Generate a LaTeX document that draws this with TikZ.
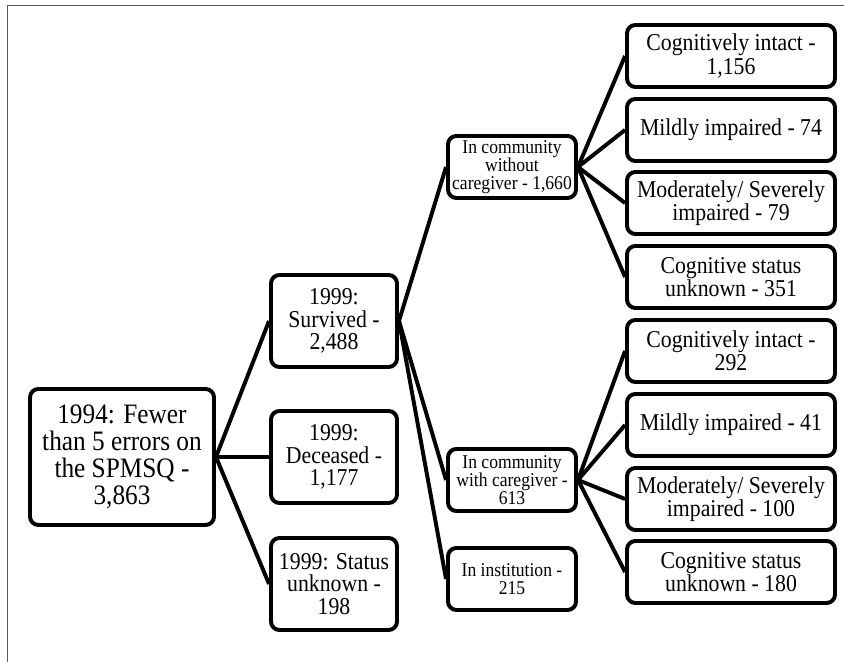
\documentclass[tikz,border=0pt]{standalone}
\usepackage{fontspec}
\setmainfont{Liberation Serif}[FakeStretch=0.9]
\definecolor{framegray}{gray}{0.35}
\usepackage{tikz}

\begin{document}
\begin{tikzpicture}[
    box/.style={draw,line width=2.8pt,rounded corners=6pt,align=center,inner sep=1pt},
    rootbox/.style={box,minimum width=4.6cm,minimum height=3.4cm,font=\fontsize{20}{19.2}\selectfont},
    yearbox/.style={box,minimum width=3.15cm,minimum height=2.3cm,font=\fontsize{17.2}{15.8}\selectfont},
    placebox/.style={box,minimum width=3.2cm,minimum height=1.55cm,font=\fontsize{13.9}{13}\selectfont},
    leafbox/.style={box,minimum width=5.2cm,minimum height=1.55cm,font=\fontsize{17.2}{16.4}\selectfont},
    link/.style={line width=2.8pt}]
        \useasboundingbox (0,0) rectangle (21.1,16.55);
        \draw[framegray,line width=0.9pt] (0.18,0)--(0.18,16.42)--(21.1,16.42);
        % first level
        \node[rootbox] (root) at (3.05,5.125) {1994: Fewer\\than 5 errors on\\the SPMSQ -\\3,863};
        \node[yearbox] (surv) at (8.35,8.525) {1999:\\Survived -\\2,488};
        \node[yearbox] (dec) at (8.35,5.125) {1999:\\Deceased -\\1,177};
        \node[yearbox] (unk) at (8.35,1.95) {1999: Status\\unknown -\\198};
        % where the survivors live
        \node[placebox] (nocg) at (12.8,12.375) {In community\\without\\caregiver - 1,660};
        \node[placebox] (withcg) at (12.8,4.55) {In community\\with caregiver -\\613};
        \node[placebox] (inst) at (12.8,2.075) {In institution -\\215};
        % cognitive status, without caregiver
        \node[leafbox] (a1) at (18.275,15.15) {Cognitively intact -\\1,156};
        \node[leafbox] (a2) at (18.275,13.3) {Mildly impaired - 74};
        \node[leafbox] (a3) at (18.275,11.475) {Moderately/ Severely\\impaired - 79};
        \node[leafbox] (a4) at (18.275,9.625) {Cognitive status\\unknown - 351};
        % cognitive status, with caregiver
        \node[leafbox] (b1) at (18.275,7.775) {Cognitively intact -\\292};
        \node[leafbox] (b2) at (18.275,5.925) {Mildly impaired - 41};
        \node[leafbox] (b3) at (18.275,4.075) {Moderately/ Severely\\impaired - 100};
        \node[leafbox] (b4) at (18.275,2.25) {Cognitive status\\unknown - 180};
        \draw[link] (root.east)--(surv.west);
        \draw[link] (root.east)--(dec.west);
        \draw[link] (root.east)--(unk.west);
        \draw[link] (surv.east)--(nocg.west);
        \draw[link] (surv.east)--(withcg.west);
        \draw[link] (surv.east)--(inst.west);
        \draw[link] (nocg.east)--(a1.west);
        \draw[link] (nocg.east)--(a2.west);
        \draw[link] (nocg.east)--(a3.west);
        \draw[link] (nocg.east)--(a4.west);
        \draw[link] (withcg.east)--(b1.west);
        \draw[link] (withcg.east)--(b2.west);
        \draw[link] (withcg.east)--(b3.west);
        \draw[link] (withcg.east)--(b4.west);
      \end{tikzpicture}
\end{document}
